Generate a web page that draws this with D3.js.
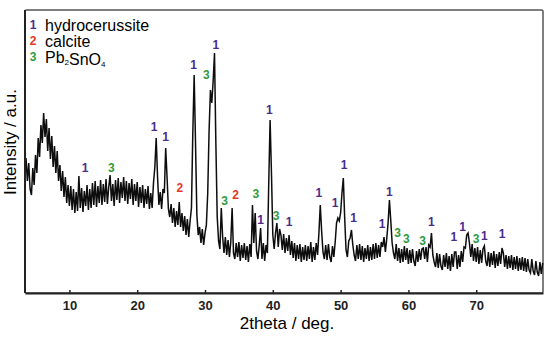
<!DOCTYPE html>
<html>
<head>
<meta charset="utf-8">
<script src="https://cdn.jsdelivr.net/npm/d3@7"></script>
<style>
  body { margin: 0; background: #fff; }
  svg { display: block; font-family: "Liberation Sans", Arial, sans-serif; }
  .tick text { font-family: "Liberation Sans", Arial, sans-serif; font-weight: bold; font-size: 13px; }
</style>
</head>
<body>
<div id="chart"></div>
<script>
// 2theta (deg) of every measured point
var theta = [
  3.6, 3.8,
  4, 4.2, 4.4, 4.6, 4.8, 5, 5.2, 5.4, 5.6, 5.8, 6, 6.2, 6.4, 6.6, 6.8,
  7, 7.2, 7.4, 7.6, 7.8, 8, 8.2, 8.4, 8.6, 8.8, 9, 9.2, 9.4, 9.6, 9.8,
  10, 10.2, 10.4, 10.6, 10.8, 11, 11.2, 11.4, 11.6, 11.8, 12, 12.2, 12.4, 12.6, 12.8,
  13, 13.2, 13.4, 13.6, 13.8, 14, 14.2, 14.4, 14.6, 14.8, 15, 15.2, 15.4, 15.6, 15.8,
  16, 16.2, 16.4, 16.6, 16.8, 17, 17.2, 17.4, 17.6, 17.8, 18, 18.2, 18.4, 18.6, 18.8,
  19, 19.2, 19.4, 19.6, 19.8, 20, 20.2, 20.4, 20.6, 20.8, 21, 21.2, 21.4, 21.6, 21.8,
  22, 22.2, 22.4, 22.6, 22.8, 23, 23.2, 23.4, 23.6, 23.8, 24, 24.2, 24.4, 24.6, 24.8,
  25, 25.2, 25.4, 25.6, 25.8, 26, 26.2, 26.4, 26.6, 26.8, 27, 27.2, 27.4, 27.6, 27.8,
  28, 28.2, 28.4, 28.6, 28.8, 29, 29.2, 29.4, 29.6, 29.8, 30, 30.2, 30.4, 30.6, 30.8,
  31, 31.2, 31.4, 31.6, 31.8, 32, 32.2, 32.4, 32.6, 32.8, 33, 33.2, 33.4, 33.6, 33.8,
  34, 34.2, 34.4, 34.6, 34.8, 35, 35.2, 35.4, 35.6, 35.8, 36, 36.2, 36.4, 36.6, 36.8,
  37, 37.2, 37.4, 37.6, 37.8, 38, 38.2, 38.4, 38.6, 38.8, 39, 39.2, 39.4, 39.6, 39.8,
  40, 40.2, 40.4, 40.6, 40.8, 41, 41.2, 41.4, 41.6, 41.8, 42, 42.2, 42.4, 42.6, 42.8,
  43, 43.2, 43.4, 43.6, 43.8, 44, 44.2, 44.4, 44.6, 44.8, 45, 45.2, 45.4, 45.6, 45.8,
  46, 46.2, 46.4, 46.6, 46.8, 47, 47.2, 47.4, 47.6, 47.8, 48, 48.2, 48.4, 48.6, 48.8,
  49, 49.2, 49.4, 49.6, 49.8, 50, 50.2, 50.4, 50.6, 50.8, 51, 51.2, 51.4, 51.6, 51.8,
  52, 52.2, 52.4, 52.6, 52.8, 53, 53.2, 53.4, 53.6, 53.8, 54, 54.2, 54.4, 54.6, 54.8,
  55, 55.2, 55.4, 55.6, 55.8, 56, 56.2, 56.4, 56.6, 56.8, 57, 57.2, 57.4, 57.6, 57.8,
  58, 58.2, 58.4, 58.6, 58.8, 59, 59.2, 59.4, 59.6, 59.8, 60, 60.2, 60.4, 60.6, 60.8,
  61, 61.2, 61.4, 61.6, 61.8, 62, 62.2, 62.4, 62.6, 62.8, 63, 63.2, 63.4, 63.6, 63.8,
  64, 64.2, 64.4, 64.6, 64.8, 65, 65.2, 65.4, 65.6, 65.8, 66, 66.2, 66.4, 66.6, 66.8,
  67, 67.2, 67.4, 67.6, 67.8, 68, 68.2, 68.4, 68.6, 68.8, 69, 69.2, 69.4, 69.6, 69.8,
  70, 70.2, 70.4, 70.6, 70.8, 71, 71.2, 71.4, 71.6, 71.8, 72, 72.2, 72.4, 72.6, 72.8,
  73, 73.2, 73.4, 73.6, 73.8, 74, 74.2, 74.4, 74.6, 74.8, 75, 75.2, 75.4, 75.6, 75.8,
  76, 76.2, 76.4, 76.6, 76.8, 77, 77.2, 77.4, 77.6, 77.8, 78, 78.2, 78.4, 78.6, 78.8,
  79, 79.2, 79.4, 79.6, 79.8
];

// measured intensity (a.u.), same order as theta
var intensity = [
  135, 112,
  130, 104, 98, 125, 108, 138, 120, 155, 136, 168, 150, 180, 156, 174, 142,
  165, 134, 157, 126, 147, 120, 142, 112, 128, 102, 122, 96, 116, 90, 108,
  87, 107, 83, 104, 80, 101, 82, 117, 85, 105, 81, 102, 87, 108, 83,
  104, 85, 110, 88, 112, 86, 107, 90, 113, 88, 109, 91, 114, 89, 106,
  118, 92, 109, 87, 113, 93, 115, 90, 111, 95, 116, 92, 112, 89, 110,
  94, 114, 88, 109, 92, 111, 86, 106, 90, 108, 85, 104, 89, 107, 84,
  100, 85, 110, 126, 155, 116, 88, 101, 84, 104, 100, 145, 116, 84, 76,
  89, 70, 85, 66, 82, 68, 91, 66, 80, 62, 77, 58, 74, 56, 72,
  85, 160, 218, 150, 78, 58, 66, 50, 64, 48, 60, 68, 100, 162, 203,
  190, 212, 240, 150, 76, 52, 44, 85, 56, 40, 56, 38, 53, 36, 51,
  85, 40, 34, 50, 36, 51, 32, 48, 35, 50, 33, 47, 31, 49, 36,
  88, 50, 80, 42, 34, 48, 65, 34, 50, 32, 48, 40, 110, 173, 120,
  58, 44, 60, 70, 46, 64, 58, 43, 59, 40, 55, 42, 58, 38, 52,
  35, 50, 32, 48, 34, 49, 31, 46, 33, 48, 32, 47, 34, 51, 31,
  46, 33, 50, 38, 60, 88, 62, 41, 34, 48, 33, 49, 36, 31, 47,
  36, 51, 70, 75, 72, 80, 100, 115, 75, 43, 36, 52, 55, 63, 48,
  38, 32, 48, 34, 49, 33, 47, 31, 45, 34, 48, 32, 46, 33, 49,
  34, 50, 35, 48, 36, 51, 46, 56, 41, 54, 70, 93, 72, 50, 40,
  34, 49, 32, 45, 30, 44, 31, 47, 33, 45, 29, 43, 30, 44, 32,
  27, 42, 31, 44, 33, 44, 45, 34, 46, 31, 48, 46, 60, 38, 31,
  26, 40, 25, 39, 27, 23, 38, 26, 40, 24, 37, 22, 39, 26, 41,
  41, 24, 38, 26, 42, 31, 46, 45, 58, 60, 50, 36, 49, 32, 45,
  31, 46, 29, 43, 30, 44, 47, 32, 27, 41, 26, 40, 28, 42, 25,
  39, 27, 41, 29, 45, 40, 26, 38, 24, 37, 25, 38, 23, 36, 24,
  37, 22, 35, 23, 36, 22, 35, 21, 34, 23, 20, 34, 22, 18, 32,
  21, 17, 31, 19, 30
];

// peak markers: phase number, 2theta, height of the label
var peakPhase = [1, 3, 1, 1, 2, 1, 3, 1, 3, 2, 3, 1, 1, 3, 1, 1, 1, 1, 1, 1, 1, 3, 3, 3, 1, 1, 1, 3, 1, 1];
var peakTheta = [12.3, 16.2, 22.5, 24.2, 26.3, 28.3, 30.2, 31.6, 32.9, 34.5, 37.5, 38.2, 39.5, 40.5, 42.4,
  46.8, 49.2, 50.5, 51.9, 56.1, 57.2, 58.4, 59.7, 62.1, 63.4, 66.7, 68.0, 70.0, 71.2, 73.8];
var peakLabelY = [125, 125, 166, 156, 105, 228, 218, 248, 92, 98, 99, 73, 183, 77, 71,
  100, 90, 128, 75, 69, 101, 60, 54, 52, 71, 56, 66, 54, 57, 59];

var phaseNames = ["hydrocerussite", "calcite", "Pb2SnO4"];
var phaseColors = ["#4a2c8c", "#e2382a", "#2f9a3c"];

var xTicks = [10, 20, 30, 40, 50, 60, 70];

var width = 553;
var height = 337;
var margin = { top: 10, right: 10, bottom: 44, left: 25 };

var svg = d3
  .select("#chart")
  .append("svg")
  .attr("width", width)
  .attr("height", height);

var x = d3
  .scaleLinear()
  .domain([3.45, 79.85])
  .range([margin.left, width - margin.right]);

var y = d3
  .scaleLinear()
  .domain([0, 283])
  .range([height - margin.bottom, margin.top]);

// frame
svg
  .append("rect")
  .attr("x", margin.left)
  .attr("y", margin.top)
  .attr("width", width - margin.left - margin.right)
  .attr("height", height - margin.top - margin.bottom)
  .attr("fill", "none")
  .attr("stroke", "#555")
  .attr("stroke-width", 1.5)
  .attr("rx", 1.5);

var points = theta.map(function(t, i) {
  return [t, intensity[i]];
});

var line = d3
  .line()
  .x(function(d) {
    return x(d[0]);
  })
  .y(function(d) {
    return y(d[1]);
  });

svg
  .append("path")
  .datum(points)
  .attr("d", line)
  .attr("fill", "none")
  .attr("stroke", "#0d0d0d")
  .attr("stroke-width", 1.5)
  .attr("stroke-linejoin", "miter");

// axes
var xAxis = d3
  .axisBottom(x)
  .tickValues(xTicks)
  .tickFormat(d3.format("d"))
  .tickSizeInner(-3)
  .tickSizeOuter(0)
  .tickPadding(8);

var gx = svg
  .append("g")
  .attr("transform", "translate(0," + (height - margin.bottom) + ")")
  .call(xAxis);
gx.attr("font-family", null).attr("font-size", null);
gx.select(".domain").attr("stroke", "#222").attr("stroke-width", 2);
gx.selectAll(".tick line").attr("stroke", "#222").attr("stroke-width", 1.5);
gx.selectAll(".tick text").attr("fill", "#222");

svg
  .append("line")
  .attr("x1", margin.left)
  .attr("x2", margin.left)
  .attr("y1", margin.top)
  .attr("y2", height - margin.bottom)
  .attr("stroke", "#222")
  .attr("stroke-width", 2);

svg
  .append("text")
  .attr("x", 287)
  .attr("y", 328.5)
  .attr("text-anchor", "middle")
  .style("font-size", "17px")
  .text("2theta / deg.");

svg
  .append("text")
  .attr("transform", "translate(16,142) rotate(-90)")
  .attr("text-anchor", "middle")
  .style("font-size", "17px")
  .text("Intensity / a.u.");

// peak labels
svg
  .append("g")
  .selectAll("text")
  .data(peakPhase)
  .enter()
  .append("text")
  .attr("x", function(d, i) {
    return x(peakTheta[i]);
  })
  .attr("y", function(d, i) {
    return y(peakLabelY[i]);
  })
  .attr("text-anchor", "middle")
  .attr("dominant-baseline", "central")
  .attr("fill", function(d) {
    return phaseColors[d - 1];
  })
  .style("font-size", "12px")
  .style("font-weight", "bold")
  .text(function(d) {
    return d;
  });

// legend
var legendItem = svg
  .append("g")
  .selectAll("g")
  .data(phaseNames)
  .enter()
  .append("g")
  .attr("transform", function(d, i) {
    return "translate(33," + (25 + i * 16) + ")";
  });

legendItem
  .append("text")
  .attr("text-anchor", "middle")
  .attr("dominant-baseline", "central")
  .attr("fill", function(d, i) {
    return phaseColors[i];
  })
  .style("font-size", "12px")
  .style("font-weight", "bold")
  .text(function(d, i) {
    return i + 1;
  });

legendItem
  .append("text")
  .attr("x", 12)
  .attr("y", 5.5)
  .style("font-size", "16px")
  .each(function(d) {
    var t = d3.select(this);
    var parts = d.split(/(\d)/);
    parts.forEach(function(p) {
      if (p === "") return;
      if (/\d/.test(p)) {
        t.append("tspan")
          .attr("dy", 2)
          .style("font-size", "8px")
          .text(p);
        t.append("tspan").attr("dy", -2).text("");
      } else {
        t.append("tspan").text(p);
      }
    });
  });
</script>
</body>
</html>
